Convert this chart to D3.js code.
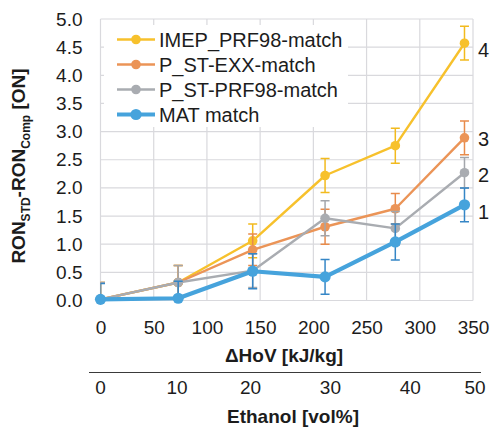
<!DOCTYPE html>
<html>
<head>
<meta charset="utf-8">
<script src="https://cdn.jsdelivr.net/npm/d3@7"></script>
<style>
  html, body { margin: 0; padding: 0; background: #fff; }
  svg { display: block; font-family: "Liberation Sans", Arial, sans-serif; }
</style>
</head>
<body>
<svg id="chart" width="494" height="427"></svg>
<script>
// ΔHoV of each blend (kJ/kg) and the measured octane differences
const hov = [0, 73, 143, 211, 277, 342];
const imepPrf98 = [0.02, 0.32, 1.06, 2.22, 2.75, 4.57];
const pstExx   = [0.02, 0.32, 0.90, 1.31, 1.63, 2.89];
const pstPrf98 = [0.02, 0.32, 0.53, 1.46, 1.28, 2.27];
const matMatch = [0.02, 0.04, 0.52, 0.42, 1.04, 1.70];
const errImep = [0.3, 0.3, 0.3, 0.3, 0.31, 0.3];
const errExx  = [0.3, 0.3, 0.28, 0.31, 0.27, 0.3];
const errPrf  = [0.3, 0.3, 0.3, 0.31, 0.3, 0.27];
const errMat  = [0.28, 0.3, 0.31, 0.31, 0.32, 0.3];

const seriesNames = ["IMEP_PRF98-match", "P_ST-EXX-match", "P_ST-PRF98-match", "MAT match"];

// Axis tick values
const xTicks = [0, 50, 100, 150, 200, 250, 300, 350];
const yTicks = [0, 0.5, 1, 1.5, 2, 2.5, 3, 3.5, 4, 4.5, 5];
// Secondary ethanol axis: labels and the ΔHoV they sit at
const ethanolLabels = ["0", "10", "20", "30", "40", "50"];
const ethanolAtHov = [0, 72, 141, 216, 291, 352];
// Ranking labels beside the last points
const rankLabels = ["4", "3", "2", "1"];
const rankAt = [4.45, 2.87, 2.23, 1.57];

const series = [
  { name: seriesNames[0], values: imepPrf98, err: errImep, color: "#F7C12C", errColor: "#F2BA1E", width: 2.4, r: 4.8 },
  { name: seriesNames[1], values: pstExx,   err: errExx,  color: "#EB9457", errColor: "#E88B4B", width: 2.4, r: 4.8 },
  { name: seriesNames[2], values: pstPrf98, err: errPrf,  color: "#A9ACB1", errColor: "#A3A6AB", width: 2.4, r: 4.8 },
  { name: seriesNames[3], values: matMatch, err: errMat,  color: "#46A3DC", errColor: "#3586C6", width: 4.2, r: 5.6 }
];

const svg = d3.select("#chart");
const W = 494, H = 427;
const m = { left: 100.5, right: 473, top: 19, bottom: 300.5 };

const x = d3.scaleLinear().domain([0, 350]).range([m.left, m.right]);
const y = d3.scaleLinear().domain([0, 5]).range([m.bottom, m.top]);

const textColor = "#1c1c1c";
const gridColor = "#D9D9DD";

svg.append("rect").attr("width", W).attr("height", H).attr("fill", "#fff");

// Grid lines (including the plot frame)
svg.append("g").selectAll("line.v").data(xTicks).join("line")
  .attr("x1", d => x(d)).attr("x2", d => x(d))
  .attr("y1", m.top).attr("y2", m.bottom)
  .attr("stroke", gridColor).attr("stroke-width", 1.2);
svg.append("g").selectAll("line.h").data(yTicks).join("line")
  .attr("x1", m.left).attr("x2", m.right)
  .attr("y1", d => y(d)).attr("y2", d => y(d))
  .attr("stroke", gridColor).attr("stroke-width", 1.2);

// Y axis tick labels
const yAxis = d3.axisLeft(y).tickValues(yTicks).tickFormat(d3.format(".1f")).tickSize(0).tickPadding(18);
const gy = svg.append("g").attr("transform", `translate(${m.left},0)`).call(yAxis);
gy.select(".domain").remove();
gy.selectAll("text").attr("font-size", 19).attr("fill", textColor)
  .attr("font-family", "Liberation Sans, Arial, sans-serif");

// X axis tick labels
const xAxis = d3.axisBottom(x).tickValues(xTicks).tickFormat(d3.format("d")).tickSize(0).tickPadding(20);
const gx = svg.append("g").attr("transform", `translate(0,${m.bottom})`).call(xAxis);
gx.select(".domain").remove();
gx.selectAll("text").attr("font-size", 19).attr("fill", textColor)
  .attr("font-family", "Liberation Sans, Arial, sans-serif");

// Axis titles
svg.append("text").attr("x", 284).attr("y", 362)
  .attr("text-anchor", "middle").attr("font-size", 19).attr("font-weight", "bold")
  .attr("fill", textColor).text("ΔHoV [kJ/kg]");

const yTitle = svg.append("text")
  .attr("transform", "translate(25,166) rotate(-90)")
  .attr("text-anchor", "middle").attr("font-size", 19).attr("font-weight", "bold")
  .attr("fill", textColor);
yTitle.append("tspan").text("RON");
yTitle.append("tspan").attr("font-size", 12).attr("dy", 5).text("STD");
yTitle.append("tspan").attr("dy", -5).text("-RON");
yTitle.append("tspan").attr("font-size", 12).attr("dy", 5).text("Comp");
yTitle.append("tspan").attr("dy", -5).text(" [ON]");

// Secondary ethanol axis
svg.append("line").attr("x1", 89).attr("x2", 481).attr("y1", 372.5).attr("y2", 372.5)
  .attr("stroke", "#3a3a3a").attr("stroke-width", 1.2);
svg.append("g").selectAll("text").data(ethanolLabels).join("text")
  .attr("x", (d, i) => x(ethanolAtHov[i]))
  .attr("y", 394)
  .attr("text-anchor", "middle").attr("font-size", 19).attr("fill", textColor)
  .text(d => d);
svg.append("text").attr("x", 293).attr("y", 423)
  .attr("text-anchor", "middle").attr("font-size", 19).attr("font-weight", "bold")
  .attr("fill", textColor).text("Ethanol [vol%]");

// Clip for error bars
svg.append("defs").append("clipPath").attr("id", "plotClip")
  .append("rect").attr("x", m.left).attr("y", m.top)
  .attr("width", m.right - m.left).attr("height", m.bottom - m.top);

const line = d3.line().x((d, i) => x(hov[i])).y(d => y(d));
const cap = 4.5;

series.forEach(s => {
  const g = svg.append("g");
  const eb = g.append("g").attr("clip-path", "url(#plotClip)")
    .attr("stroke", s.errColor).attr("stroke-width", 1.5).attr("fill", "none");
  s.values.forEach((v, i) => {
    const cx = x(hov[i]), y0 = y(v - s.err[i]), y1 = y(v + s.err[i]);
    eb.append("line").attr("x1", cx).attr("x2", cx).attr("y1", y0).attr("y2", y1);
    eb.append("line").attr("x1", cx - cap).attr("x2", cx + cap).attr("y1", y0).attr("y2", y0);
    eb.append("line").attr("x1", cx - cap).attr("x2", cx + cap).attr("y1", y1).attr("y2", y1);
  });
  g.append("path").datum(s.values).attr("d", line)
    .attr("fill", "none").attr("stroke", s.color).attr("stroke-width", s.width)
    .attr("stroke-linejoin", "round");
  g.selectAll("circle").data(s.values).join("circle")
    .attr("cx", (d, i) => x(hov[i])).attr("cy", d => y(d)).attr("r", s.r)
    .attr("fill", s.color);
});

// Ranking labels
svg.append("g").selectAll("text").data(rankLabels).join("text")
  .attr("x", 478).attr("y", (d, i) => y(rankAt[i]))
  .attr("dy", "0.36em").attr("font-size", 20).attr("fill", textColor)
  .text(d => d);

// Legend
const lg = svg.append("g");
lg.append("rect").attr("x", 104).attr("y", 25).attr("width", 244).attr("height", 102).attr("fill", "#fff");
series.forEach((s, i) => {
  const ly = 39.5 + i * 25;
  lg.append("line").attr("x1", 117).attr("x2", 155).attr("y1", ly).attr("y2", ly)
    .attr("stroke", s.color).attr("stroke-width", s.width);
  lg.append("circle").attr("cx", 136).attr("cy", ly).attr("r", s.r).attr("fill", s.color);
  lg.append("text").attr("x", 159).attr("y", ly).attr("dy", "0.36em")
    .attr("font-size", 20).attr("fill", textColor).text(s.name);
});
</script>
</body>
</html>
